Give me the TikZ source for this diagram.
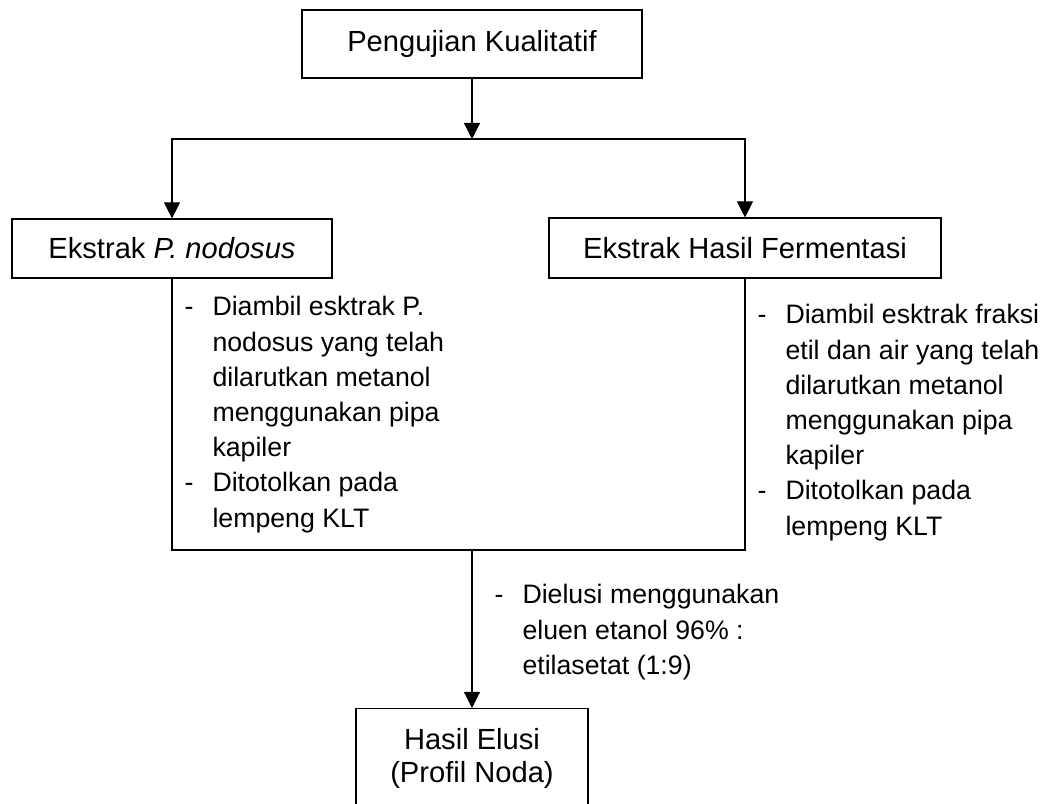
\documentclass[tikz,border=0pt]{standalone}
\usepackage{fontspec}
\setmainfont{Liberation Sans}
\usetikzlibrary{arrows.meta}

\newcommand{\itemdash}{\makebox[11.5pt][l]{-}}
\newcommand{\itemgap}{\hspace*{11.5pt}}

\begin{document}
\begin{tikzpicture}[x=0.412pt, y=-0.412pt, line width=0.5pt, >={Triangle[length=6.6pt, width=6.6pt]}]
	\useasboundingbox (0, 0) rectangle (1047, 804);
	\clip (0, 0) rectangle (1047, 804);
	
	\begin{scope}[
		box/.style={draw, align=center, inner sep=0pt, font=\fontsize{12}{13.6}\selectfont},
		steplist/.style={anchor=base west, inner sep=0pt, font=\fontsize{11}{14.5}\selectfont}]
		\node[box, minimum width=140pt, minimum height=28pt] (K) at (472, 44) {Pengujian Kualitatif};
		
		\node[box, minimum width=131.8pt, minimum height=24.3pt] (L) at (172, 248.5) {Ekstrak \textit{P. nodosus}};
		\node[box, minimum width=161.5pt, minimum height=24.7pt] (R) at (745, 248) {Ekstrak Hasil Fermentasi};
		
		\node[box, anchor=north, minimum width=95.6pt, minimum height=41.2pt] (H) at (472, 708) {Hasil Elusi\\(Profil Noda)};
		
		\node[steplist] (TL) at (184, 316) {\begin{tabular}[t]{@{}l@{}}
			\itemdash Diambil esktrak P.\\
			\itemgap nodosus yang telah\\
			\itemgap dilarutkan metanol\\
			\itemgap menggunakan pipa\\
			\itemgap kapiler\\
			\itemdash Ditotolkan pada\\
			\itemgap lempeng KLT
		\end{tabular}};
		\node[steplist] (TR) at (757, 324) {\begin{tabular}[t]{@{}l@{}}
			\itemdash Diambil esktrak fraksi\\
			\itemgap etil dan air yang telah\\
			\itemgap dilarutkan metanol\\
			\itemgap menggunakan pipa\\
			\itemgap kapiler\\
			\itemdash Ditotolkan pada\\
			\itemgap lempeng KLT
		\end{tabular}};
		\node[steplist] (TE) at (494, 604) {\begin{tabular}[t]{@{}l@{}}
			\itemdash Dielusi menggunakan\\
			\itemgap eluen etanol 96\% :\\
			\itemgap etilasetat (1:9)
		\end{tabular}};
	\end{scope}
	
	\coordinate (S) at (472, 139);
	\coordinate (J) at (472, 550);
	
	\draw[->] (K) -- (S);
	\draw[->] (S) -| (L);
	\draw[->] (S) -| (R);
	\draw[-] (L) |- (J) -| (R);
	\draw[->] (J) -- (H);
\end{tikzpicture}
\end{document}
